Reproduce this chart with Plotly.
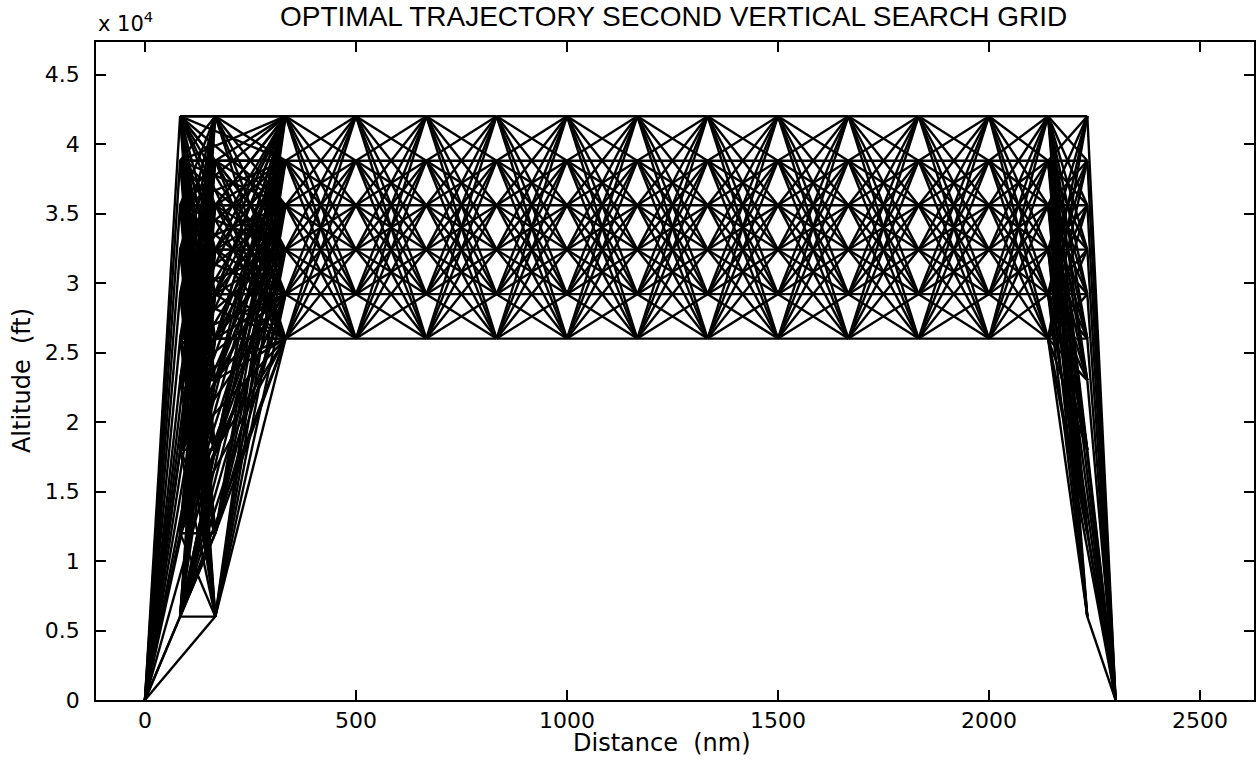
import plotly.graph_objects as go

# ---- data ----
origin_point = [0, 0]
end_point = [2300, 0]
climb_dist = [83.3, 166.7]
climb_alt = [6000, 12000, 18000, 23000, 26000, 29200, 32400, 35600, 38800, 42000]
cruise_dist = [333.3, 500, 666.7, 833.3, 1000, 1166.7, 1333.3, 1500, 1666.7, 1833.3, 2000]
cruise_alt = [26000, 29200, 32400, 35600, 38800, 42000]
descent_dist = [2140, 2233]
descent1_alt = [26000, 29200, 32400, 35600, 38800, 42000]
descent2_alt = [6000, 12000, 18000, 23000, 26000, 29200, 32400, 35600, 38800, 42000]

x_tick_vals = [0, 500, 1000, 1500, 2000, 2500]
x_tick_text = ["0", "500", "1000", "1500", "2000", "2500"]
y_tick_vals = [0, 5000, 10000, 15000, 20000, 25000, 30000, 35000, 40000, 45000]
y_tick_text = ["0", "0.5", "1", "1.5", "2", "2.5", "3", "3.5", "4", "4.5"]

# ---- stages of the search grid: (distance, list of altitudes) ----
stages = [(origin_point[0], [origin_point[1]]),
          (climb_dist[0], climb_alt),
          (climb_dist[1], climb_alt)]
for d in cruise_dist:
    stages.append((d, cruise_alt))
stages.append((descent_dist[0], descent1_alt))
stages.append((descent_dist[1], descent2_alt))
stages.append((end_point[0], [end_point[1]]))

xs, ys = [], []
def connect(stage0, stage1):
    d0, alts0 = stage0
    d1, alts1 = stage1
    for a0 in alts0:
        for a1 in alts1:
            xs.extend([d0, d1, None])
            ys.extend([a0, a1, None])

for i in range(len(stages) - 1):
    connect(stages[i], stages[i + 1])
# links that skip one column in the climb and descent parts
connect(stages[0], stages[2])
connect(stages[1], stages[3])
connect(stages[-3], stages[-1])

fig = go.Figure()
fig.add_trace(go.Scatter(x=xs, y=ys, mode="lines",
                         line=dict(color="black", width=2.4),
                         hoverinfo="skip", showlegend=False))

axis_common = dict(showline=True, linecolor="black", linewidth=1.5, mirror="ticks",
                   ticks="inside", tickcolor="black", tickwidth=1.5, ticklen=10,
                   showgrid=False, zeroline=False, automargin=False)

fig.update_layout(
    width=1257, height=761,
    margin=dict(l=96, r=3, t=42, b=61, autoexpand=False),
    paper_bgcolor="white", plot_bgcolor="white",
    xaxis=dict(range=[-116, 2628], tickvals=x_tick_vals, ticktext=x_tick_text,
               tickfont=dict(family="DejaVu Sans", size=22, color="black"),
               ticklabelstandoff=0, **axis_common),
    yaxis=dict(range=[0, 47340], tickvals=y_tick_vals, ticktext=y_tick_text,
               tickfont=dict(family="DejaVu Sans", size=22, color="black"),
               ticklabelstandoff=10, **axis_common),
)

fig.add_annotation(xref="paper", yref="paper", x=0.499, y=1.038,
                   xanchor="center", yanchor="middle", showarrow=False,
                   text="OPTIMAL TRAJECTORY SECOND VERTICAL SEARCH GRID",
                   font=dict(family="Liberation Sans", size=28, color="black"))
fig.add_annotation(xref="paper", yref="paper", x=0.489, y=-0.066,
                   xanchor="center", yanchor="middle", showarrow=False,
                   text="Distance  (nm)",
                   font=dict(family="DejaVu Sans", size=24, color="black"))
fig.add_annotation(xref="paper", yref="paper", x=-0.064, y=0.486,
                   xanchor="center", yanchor="middle", showarrow=False, textangle=-90,
                   text="Altitude  (ft)",
                   font=dict(family="DejaVu Sans", size=24, color="black"))
fig.add_annotation(xref="paper", yref="paper", x=0.0, y=1.0, xanchor="left", yanchor="bottom",
                   yshift=4, showarrow=False,
                   text="x 10<sup>4</sup>",
                   font=dict(family="DejaVu Sans", size=21, color="black"))

fig.write_html("out.html", config={"displayModeBar": False},
               post_script="document.body.style.margin='0px';document.body.style.overflow='hidden';")
